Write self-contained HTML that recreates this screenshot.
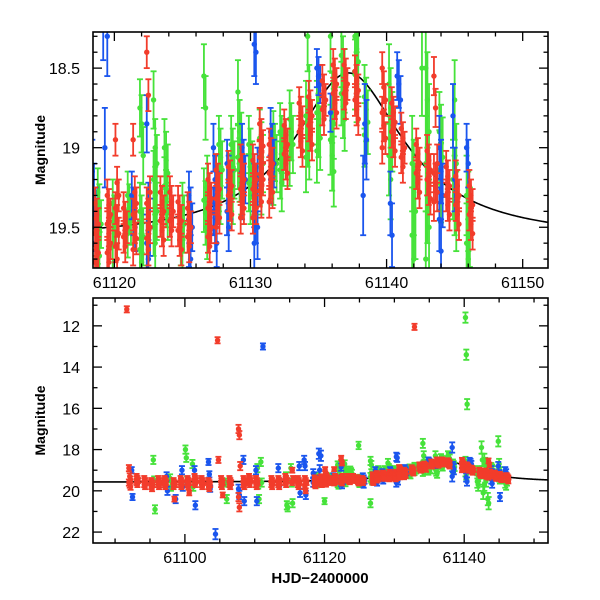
<!DOCTYPE html>
<html><head><meta charset="utf-8"><style>
html,body{margin:0;padding:0;background:#fff;overflow:hidden;width:600px;height:600px}
svg{display:block}
text{font-family:"Liberation Sans",Arial,sans-serif;fill:#000}
</style></head><body>
<svg id="chart" width="600" height="600" viewBox="0 0 600 600" xmlns="http://www.w3.org/2000/svg">
<defs>
<clipPath id="clipTop"><rect x="93" y="32" width="455" height="236"/></clipPath>
<clipPath id="clipBot"><rect x="93" y="298" width="455" height="245"/></clipPath>
</defs>
<g id="top"></g>
<g id="bot"></g>
</svg>
<script>
// Nights: [time, err, [magnitudes]]
const redNights = [
 [61091.8,0.15,[11.2]],[61092.1,0.15,[18.9,19.3,19.45,19.6,19.7,19.8]],[61093.2,0.12,[19.3,19.4,19.5,19.6,19.7]],[61094.3,0.12,[19.4,19.5,19.6,19.7,19.8]],
 [61095.3,0.12,[19.5,19.6,19.7,19.8,19.9]],[61096.3,0.12,[19.4,19.5,19.6,19.7,19.8]],[61097.2,0.12,[19.4,19.5,19.6,19.7,19.8]],[61098.5,0.12,[19.5,19.6,19.7,19.8,20.4]],
 [61099.5,0.12,[19.4,19.5,19.6,19.7,19.8]],[61100.5,0.12,[19.4,19.5,19.6,19.7,19.8,20.1]],[61101.5,0.12,[19.3,19.4,19.5,19.6,19.7]],[61102.5,0.12,[19.4,19.5,19.6,19.7,19.8]],
 [61103.5,0.12,[19.5,19.6,19.7,19.8,19.9]],[61104.8,0.15,[12.7,18.5]],[61105.3,0.12,[19.4,19.5,19.6,19.7,19.8,20.2]],[61106.5,0.12,[19.4,19.5,19.6,19.7,19.8]],
 [61107.8,0.2,[17.0,17.3,18.8,20.3,20.8]],[61108.5,0.12,[19.4,19.5,19.6,19.7,19.8]],[61109.3,0.12,[19.3,19.4,19.5,19.6,19.7]],[61110.3,0.12,[19.4,19.5,19.6,19.7,19.8]],
 [61112.5,0.12,[19.4,19.5,19.6,19.7,19.8]],[61113.5,0.12,[19.4,19.5,19.6,19.7,19.8]],[61114.5,0.12,[19.3,19.4,19.5,19.6,19.7]],[61115.5,0.12,[19.0,19.4,19.5,19.6]],
 [61116.3,0.12,[19.4,19.5,19.6,19.7,19.8]],[61117.3,0.12,[19.4,19.5,19.6,19.8,20.0]],
 [61118.7,0.1,[19.35,19.42,19.48,19.54,19.6,19.66,19.72,19.78]],
 [61119.6,0.1,[19.3,19.36,19.42,19.48,19.54,19.6,19.66,19.72]],
 [61120.2,0.1,[18.95,19.22,19.3,19.38,19.46,19.54,19.62,19.7]],
 [61120.8,0.1,[19.38,19.44,19.5,19.56,19.62]],
 [61121.5,0.1,[18.95,19.28,19.35,19.42,19.5,19.57,19.64]],
 [61122.5,0.1,[18.4,18.67,19.28,19.35,19.42,19.5,19.57,19.64]],
 [61123.5,0.1,[19.28,19.34,19.4,19.46,19.52,19.58]],
 [61124.2,0.1,[19.28,19.34,19.4,19.46,19.52]],
 [61124.8,0.1,[19.34,19.4,19.46,19.52,19.58,19.64]],
 [61125.5,0.1,[19.38,19.44,19.5,19.56,19.62]],
 [61127.0,0.1,[19.2,19.26,19.32,19.38,19.44,19.5,19.56,19.62]],
 [61127.6,0.1,[19.14,19.2,19.26,19.32,19.38,19.44,19.5]],
 [61128.5,0.1,[19.12,19.18,19.24,19.3,19.36,19.42]],
 [61129.4,0.1,[19.08,19.14,19.2,19.26,19.32,19.38,19.44]],
 [61130.3,0.1,[19.08,19.14,19.2,19.26,19.32,19.38,19.44]],
 [61130.8,0.1,[18.85,18.92,18.99,19.06,19.13,19.2,19.27,19.34]],
 [61131.5,0.1,[18.98,19.04,19.1,19.16,19.22,19.28,19.34]],
 [61132.6,0.1,[18.86,18.92,18.98,19.04,19.1,19.16]],
 [61133.0,0.15,[12.05]],
 [61133.7,0.1,[18.72,18.78,18.84,18.9,18.96,19.02]],
 [61134.4,0.1,[18.68,18.74,18.8,18.86,18.92,18.98]],
 [61135.4,0.1,[18.58,18.64,18.7,18.76,18.82]],
 [61136.2,0.1,[18.48,18.54,18.6,18.66,18.72,18.78]],
 [61137.0,0.1,[18.48,18.54,18.6,18.66,18.72]],
 [61137.8,0.1,[18.52,18.58,18.64,18.7,18.76,18.82]],
 [61139.8,0.1,[18.5,18.62,18.7,18.78,18.86,18.94,19.0]],
 [61140.5,0.1,[18.72,18.78,18.84,18.9,18.96,19.02]],
 [61141.2,0.1,[18.88,18.94,19.0,19.06,19.12]],
 [61142.3,0.1,[18.98,19.04,19.1,19.16,19.22,19.28]],
 [61143.1,0.1,[19.02,19.08,19.14,19.2,19.26,19.32]],
 [61143.6,0.12,[18.55,18.75,19.1,19.16,19.22,19.28,19.34]],
 [61144.5,0.1,[19.12,19.18,19.24,19.3,19.36,19.42]],
 [61145.2,0.1,[19.18,19.24,19.3,19.36,19.42,19.48]],
 [61146.2,0.1,[19.24,19.3,19.36,19.42,19.48,19.54]]
];
const greenNights = [
 [61095.6,0.2,[18.5,19.5,20.9]],[61098.0,0.2,[19.4,19.8]],[61100.2,0.2,[18.0,18.4,19.5]],[61101.2,0.2,[18.7,19.8]],
 [61106.0,0.2,[19.6,20.4]],[61110.5,0.2,[18.9,19.7,20.4]],[61111.0,0.2,[18.6,19.6]],[61114.6,0.2,[19.3,20.7,20.8]],
 [61115.3,0.2,[18.9,19.6,20.6]],[61120.0,0.15,[19.35,19.45,19.55,19.62,20.5]],[61118.9,0.15,[19.28,19.38,19.48,19.58,19.68]],
 [61121.1,0.15,[19.3,19.38,19.46,19.54]],[61122.0,0.18,[18.75,18.85,19.05,19.4,19.48,19.56,19.64,19.72]],
 [61123.0,0.18,[18.7,19.0,19.1,19.2,19.3,19.4,19.5,19.6]],
 [61123.8,0.18,[19.0,19.08,19.16,19.24,19.32,19.4]],[61125.0,0.18,[17.8,19.4,19.48,19.56,19.64]],
 [61126.7,0.2,[18.55,18.75,19.25,19.33,19.41,19.5,20.6]],
 [61127.8,0.18,[18.98,19.06,19.14,19.22,19.3]],[61128.7,0.18,[18.98,19.06,19.14,19.22,19.3]],
 [61129.2,0.2,[18.65,18.9,18.98,19.06,19.14,19.22]],
 [61130.0,0.18,[18.98,19.06,19.14,19.22,19.3]],[61130.8,0.18,[18.94,19.02,19.1,19.18,19.24]],
 [61131.8,0.18,[18.95,19.03,19.1,19.18]],[61132.3,0.18,[18.9,18.98,19.06,19.14,19.22]],
 [61133.0,0.18,[18.82,18.9,18.98,19.06]],[61134.2,0.22,[17.7,18.3,18.7,18.8,18.9,18.98,19.06]],
 [61135.0,0.2,[18.78,18.86,18.94,19.02]],
 [61136.0,0.22,[18.3,18.75,18.85,18.95,19.05,19.15]],[61136.8,0.2,[18.42,18.5,18.58,18.66,18.74,18.82]],
 [61137.8,0.22,[18.3,18.38,18.46,18.54,18.62]],
 [61138.5,0.2,[18.68,18.76,18.84,18.92]],[61140.3,0.25,[11.6,13.4,15.8,18.6,18.75,18.9,19.05,19.2]],
 [61142.0,0.3,[19.1,19.25,19.4,19.55,19.7]],
 [61142.6,0.3,[17.9,18.5,20.1]],[61143.0,0.3,[18.5,18.7,18.9,19.1,19.3,19.5,19.7]],[61143.5,0.3,[20.4,20.6]],
 [61144.0,0.25,[18.9,18.98,19.06,19.14,19.22]],[61145.0,0.25,[17.6,18.7,19.1,19.2,19.3,19.4]],
 [61146.0,0.25,[19.3,19.4,19.5,19.6,19.7]]
];
const blueNights = [
 [61092.5,0.15,[19.0,20.3]],[61097.5,0.2,[19.3,20.0]],[61098.8,0.2,[20.4]],[61099.7,0.2,[19.0,19.8]],
 [61101.5,0.2,[19.0,20.7]],[61103.5,0.15,[18.6,19.2,19.9]],[61104.5,0.25,[22.1]],[61107.8,0.2,[19.9,20.2]],
 [61108.5,0.2,[18.5,20.5]],[61110.3,0.2,[19.0,20.5]],[61111.3,0.15,[13.0]],[61113.5,0.2,[18.9,19.6]],
 [61116.5,0.2,[18.8,20.1]],[61117.2,0.2,[18.5,18.8,20.2]],[61118.5,0.2,[19.15,19.3,19.45,19.6]],
 [61119.3,0.25,[18.2,19.0]],[61119.6,0.25,[18.3]],[61121.4,0.15,[19.3,19.4,19.5]],[61122.5,0.18,[18.85,19.4,19.5,19.6,19.7]],
 [61125.6,0.15,[19.3,19.4,19.5,19.6,19.7]],[61127.4,0.15,[19.0,19.2,19.3,19.4,19.5,19.6]],[61128.4,0.15,[19.1,19.2,19.3,19.4,19.5]],
 [61129.5,0.15,[19.0,19.1,19.2,19.3]],[61130.4,0.2,[18.35,18.4,19.2,19.3,19.4,19.5,19.6]],[61131.6,0.15,[18.9,19.0,19.1,19.2]],
 [61135.0,0.12,[18.5,18.55,18.6]],[61136.0,0.12,[18.78]],[61138.4,0.25,[17.9,18.85,18.95,19.3]],
 [61140.4,0.2,[19.35,19.55]],[61140.9,0.15,[18.55,18.6,18.7]],[61144.0,0.2,[19.0,19.15,19.3,19.45,19.65]],
 [61145.0,0.2,[18.8,19.2,20.3]],[61146.0,0.15,[19.0,19.1]]
];
// model curve parameters
const model = {m0:19.58, t0:61137.2, amp:1.63, w:3.9};

const NS="http://www.w3.org/2000/svg";
function el(tag, attrs, parent){const e=document.createElementNS(NS,tag);for(const k in attrs)e.setAttribute(k,attrs[k]);parent.appendChild(e);return e;}
const colors={red:"#f23c2b",green:"#46e23a",blue:"#1a55ee"};

function modelMag(t){const x=(t-model.t0)/model.w;return model.m0-2.5*Math.log10(1+model.amp/(1+x*x));}

function panel(g, box, xd, yd, xMajor, xMinor, yMajor, yMinor, clipId, xLabels, yLabels, tickLen){
  const sx=t=>box.x+(t-xd[0])/(xd[1]-xd[0])*box.w;
  const sy=m=>box.y+(m-yd[0])/(yd[1]-yd[0])*box.h;
  const plot=el("g",{"clip-path":"url(#"+clipId+")"},g);
  
  
  let d="";for(let t=xd[0];t<=xd[1]+0.01;t+=0.1){d+=(d?"L":"M")+sx(t).toFixed(2)+","+sy(modelMag(t)).toFixed(2);}
  const c=el("path",{d:d,fill:"none",stroke:"#000","stroke-width":1.6},plot);
  
  
  const series=[["green",greenNights],["blue",blueNights],["red",redNights]];
  series.forEach(([name,nights])=>{
    const sg=el("g",{},plot);
    
    
    nights.forEach(([t,err,mags])=>{
      mags.forEach((m,i)=>{
        const dx=((i%3)-1)*0.12;
        const x=sx(t+dx),y1=sy(m-err),y2=sy(m+err),y=sy(m);
        const pg=el("g",{stroke:colors[name],"stroke-width":1.8},sg);
        
        
        el("line",{x1:x,x2:x,y1:y1,y2:y2},pg);
        el("line",{x1:x-3,x2:x+3,y1:y1,y2:y1},pg);
        el("line",{x1:x-3,x2:x+3,y1:y2,y2:y2},pg);
        el("circle",{cx:x,cy:y,r:2.7,fill:colors[name],stroke:"none"},pg);
      });
    });
  });
  const fr=el("rect",{x:box.x,y:box.y,width:box.w,height:box.h,fill:"none",stroke:"#000","stroke-width":1.6},g);
  
  
  const tk=el("g",{stroke:"#000","stroke-width":1.3},g);
  
  
  xMinor.forEach(v=>{const x=sx(v),L=xMajor.includes(v)?tickLen:tickLen/2;
    el("line",{x1:x,x2:x,y1:box.y,y2:box.y+L},tk);el("line",{x1:x,x2:x,y1:box.y+box.h,y2:box.y+box.h-L},tk);});
  yMinor.forEach(v=>{const y=sy(v),L=yMajor.some(u=>Math.abs(u-v)<1e-6)?tickLen:tickLen/2;
    el("line",{x1:box.x,x2:box.x+L,y1:y,y2:y},tk);el("line",{x1:box.x+box.w,x2:box.x+box.w-L,y1:y,y2:y},tk);});
  xMajor.forEach((v,i)=>{const t=el("text",{x:sx(v),y:box.y+box.h+20,"text-anchor":"middle","font-size":16},g);t.textContent=xLabels[i];
    
    });
  yMajor.forEach((v,i)=>{const t=el("text",{x:box.x-13,y:sy(v)+6,"text-anchor":"end","font-size":16},g);t.textContent=yLabels[i];
    
    });
  const yt=el("text",{x:0,y:0,transform:"translate(45,"+(box.y+box.h/2)+") rotate(-90)","text-anchor":"middle","font-size":14,"font-weight":"bold"},g);
  yt.textContent="Magnitude";
  
  
}
const topXMajor=[61120,61130,61140,61150], topXLabels=["61120","61130","61140","61150"];
const topYMajor=[18.5,19,19.5], topYLabels=["18.5","19","19.5"];
const botXMajor=[61100,61120,61140], botXLabels=["61100","61120","61140"];
const botYMajor=[12,14,16,18,20,22], botYLabels=["12","14","16","18","20","22"];
function range(a,b,s){const r=[];for(let v=a;v<=b+1e-9;v+=s)r.push(Math.round(v*1000)/1000);return r;}
panel(document.getElementById("top"),{x:93,y:32,w:455,h:236},[61118.43,61151.86],[18.273,19.756],
  topXMajor,range(61120,61150,2),topYMajor,range(18.3,19.7,0.1),"clipTop",topXLabels,topYLabels,9);
panel(document.getElementById("bot"),{x:93,y:298,w:455,h:245},[61086.84,61152.0],[10.65,22.53],
  botXMajor,range(61090,61150,5),botYMajor,range(11,22,1),"clipBot",botXLabels,botYLabels,9);
const xt=el("text",{x:320,y:583,"text-anchor":"middle","font-size":15,"font-weight":"bold"},document.getElementById("bot"));
xt.textContent="HJD\u22122400000";


</script>
</body></html>
